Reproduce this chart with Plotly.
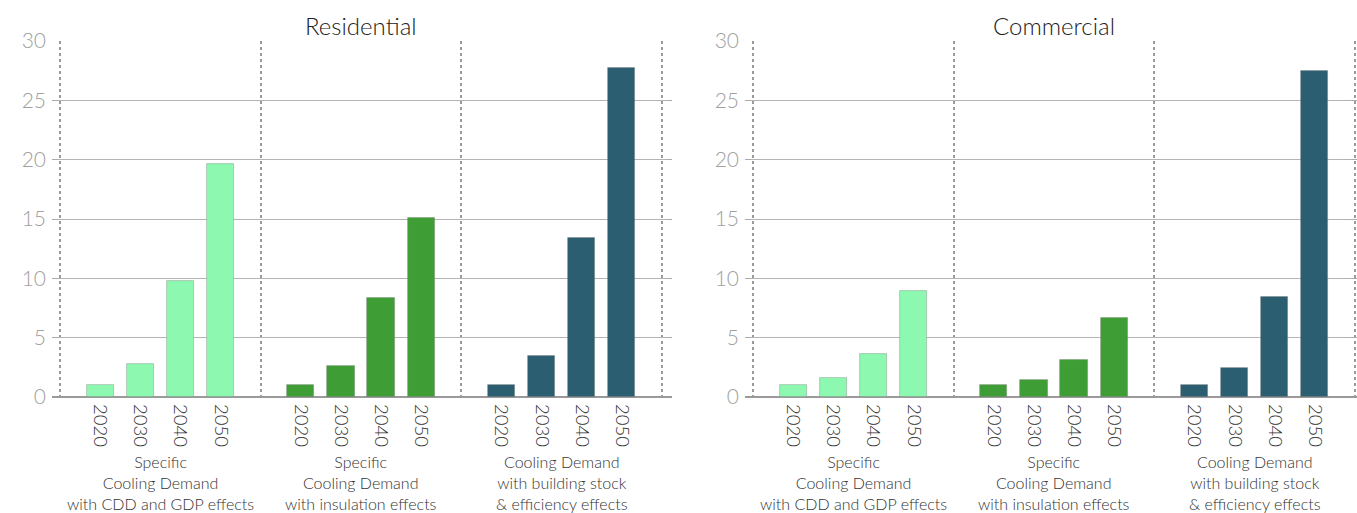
import plotly.graph_objects as go

# ---------------- data ----------------
years = ["2020", "2030", "2040", "2050"]
group_labels = [
    "Specific<br>Cooling Demand<br>with CDD and GDP effects",
    "Specific<br>Cooling Demand<br>with insulation effects",
    "Cooling Demand<br>with building stock<br>& efficiency effects",
]
panel_titles = ["Residential", "Commercial"]

residential_cdd_gdp = [1.0, 2.8, 9.75, 19.6]
residential_insulation = [1.0, 2.62, 8.35, 15.05]
residential_stock_eff = [1.0, 3.45, 13.37, 27.7]

commercial_cdd_gdp = [1.0, 1.56, 3.66, 8.95]
commercial_insulation = [1.0, 1.45, 3.1, 6.68]
commercial_stock_eff = [1.0, 2.41, 8.44, 27.46]

group_colors = ["#8DF8B0", "#3E9E35", "#2B5E70"]
y_ticks = [0, 5, 10, 15, 20, 25, 30]

panels = [
    [residential_cdd_gdp, residential_insulation, residential_stock_eff],
    [commercial_cdd_gdp, commercial_insulation, commercial_stock_eff],
]

# ---------------- figure ----------------
W, H = 1357, 513
FONT = "Lato"
slot = len(years) + 1  # 4 bars + one spacer per group

fig = go.Figure()

tickvals, ticktext = [], []
for g in range(len(group_labels)):
    for i, yr in enumerate(years):
        tickvals.append(g * slot + i + 1)
        ticktext.append(yr)
sep_vals = [g * slot for g in range(len(group_labels) + 1)]

for p, groups in enumerate(panels):
    xa = "x" if p == 0 else "x2"
    ya = "y" if p == 0 else "y2"
    for g, vals in enumerate(groups):
        xs = [g * slot + i + 1 for i in range(len(years))]
        fig.add_trace(go.Bar(
            x=xs, y=vals, xaxis=xa, yaxis=ya,
            width=0.68,
            marker=dict(color=group_colors[g],
                        line=dict(color="rgba(120,120,120,0.45)", width=0.8)),
            showlegend=False,
            hoverinfo="x+y",
        ))
    # group labels
    for g, lab in enumerate(group_labels):
        fig.add_annotation(
            x=g * slot + (len(years) + 1) / 2, y=0, xref=xa, yref="paper",
            text=lab, showarrow=False, xanchor="center", yanchor="bottom",
            yshift=-2,
            font=dict(family=FONT, size=16, color="#333333", weight=300),
            align="center",
        )
    # panel title
    fig.add_annotation(
        x=(sep_vals[0] + sep_vals[-1]) / 2, y=1, xref=xa, yref="paper",
        text=panel_titles[p], showarrow=False, xanchor="center", yanchor="middle",
        yshift=-25,
        font=dict(family=FONT, size=24, color="#222222", weight=300),
    )

ydom = [116 / H, 472 / H]
xdom1 = [52 / W, 672 / W]
xdom2 = [745 / W, 1.0]
px_per_unit = 40.13
range1 = [-0.2, -0.2 + (672 - 52) / px_per_unit]
range2 = [-0.2, -0.2 + (W - 745) / px_per_unit]

xaxis_common = dict(
    tickmode="array", tickvals=tickvals, ticktext=ticktext,
    tickangle=90, ticks="", showgrid=False, zeroline=False, showline=False,
    automargin=False, ticklabelstandoff=6,
    tickfont=dict(family=FONT, size=18.5, color="#333333", weight=300),
    minor=dict(tickmode="array", tickvals=sep_vals, showgrid=True,
               gridcolor="#9a9a9a", griddash="dot", gridwidth=1.6, ticks=""),
    fixedrange=True,
)
yaxis_common = dict(
    range=[0, 30], tickmode="array", tickvals=y_ticks,
    ticks="inside", ticklen=6, tickcolor="#aaaaaa", tickwidth=1,
    mirror="ticks", showline=False, automargin=False,
    showgrid=True, gridcolor="#b4b4b4", gridwidth=1.3,
    zeroline=True, zerolinecolor="#9a9a9a", zerolinewidth=1.5,
    tickfont=dict(family=FONT, size=21, color="#a0a0a0", weight=300),
    ticklabelstandoff=5,
    domain=ydom, fixedrange=True,
)

fig.update_layout(
    width=W, height=H,
    margin=dict(l=0, r=0, t=0, b=0, pad=0),
    paper_bgcolor="white", plot_bgcolor="white",
    bargap=0,
    xaxis=dict(domain=xdom1, range=range1, anchor="y", **xaxis_common),
    yaxis=dict(anchor="x", **yaxis_common),
    xaxis2=dict(domain=xdom2, range=range2, anchor="y2", **xaxis_common),
    yaxis2=dict(anchor="x2", **yaxis_common),
    font=dict(family=FONT),
)

fig.write_html(
    "out.html",
    config={"displayModeBar": False},
    post_script="document.body.style.margin='0';document.body.style.overflow='hidden';",
)
